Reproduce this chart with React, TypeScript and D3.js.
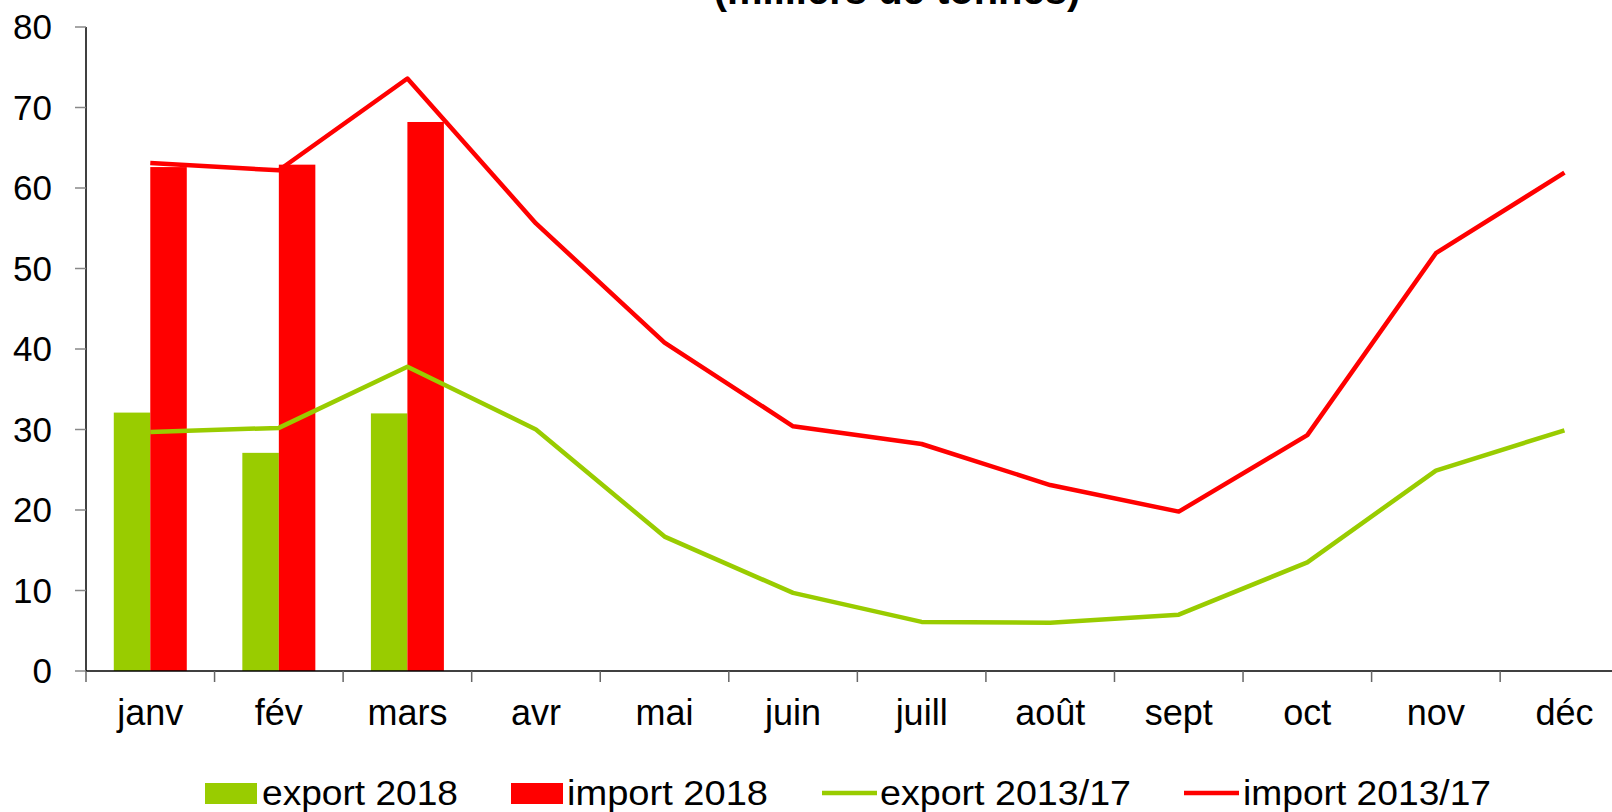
import React from 'react';
import * as d3 from 'd3';

const months = ['janv', 'fév', 'mars', 'avr', 'mai', 'juin', 'juill', 'août', 'sept', 'oct', 'nov', 'déc'];
const export2018 = [32.1, 27.1, 32.0];
const import2018 = [62.6, 62.9, 68.2];
const export1317 = [29.7, 30.2, 37.8, 30.0, 16.7, 9.7, 6.1, 6.0, 7.0, 13.5, 24.9, 29.9];
const import1317 = [63.1, 62.2, 73.6, 55.6, 40.8, 30.4, 28.2, 23.1, 19.8, 29.3, 51.9, 61.9];
const yTicks = [0, 10, 20, 30, 40, 50, 60, 70, 80];

const GREEN = '#99CC00';
const RED = '#FF0000';
const FONT = '"Liberation Sans", Arial, sans-serif';

const W = 1612;
const H = 812;

const App = () => {
  const left = 86;
  const step = 128.56;
  const x = d3.scaleBand<string>()
    .domain(months)
    .range([left, left + step * months.length])
    .padding(0);
  const y = d3.scaleLinear().domain([0, 80]).range([671, 27]);
  const bw = 36.5;
  const cx = (m: string) => (x(m) as number) + x.bandwidth() / 2;

  const line = d3.line<number>()
    .x((_, i) => cx(months[i]))
    .y(d => y(d));

  // legend items
  const legend = [
    { kind: 'rect', color: GREEN, label: 'export 2018', sx: 205, tx: 262, tw: 196 },
    { kind: 'rect', color: RED, label: 'import 2018', sx: 511, tx: 567, tw: 201 },
    { kind: 'line', color: GREEN, label: 'export 2013/17', sx: 822, tx: 880, tw: 251 },
    { kind: 'line', color: RED, label: 'import 2013/17', sx: 1184, tx: 1243, tw: 248 },
  ];

  return (
    <div style={{ position: 'absolute', left: 0, top: 0 }}>
      <svg width={W} height={H} style={{ display: 'block', background: '#fff' }} fontFamily={FONT}>
        <text x={897} y={4} textAnchor="middle" fontSize={40} fontWeight="bold">(milliers de tonnes)</text>

        {/* y axis */}
        <line x1={left} x2={left} y1={y(80)} y2={y(0)} stroke="#000" strokeWidth={1.5} />
        {yTicks.map(t => (
          <g key={t}>
            <line x1={left - 11} x2={left} y1={y(t)} y2={y(t)} stroke="#888" strokeWidth={1.5} />
            <text x={52} y={y(t)} dy="0.355em" textAnchor="end" fontSize={35}>{t}</text>
          </g>
        ))}

        {/* bars */}
        {export2018.map((v, i) => (
          <rect key={'e' + i} x={cx(months[i]) - bw} y={y(v)} width={bw} height={y(0) - y(v)} fill={GREEN} />
        ))}
        {import2018.map((v, i) => (
          <rect key={'i' + i} x={cx(months[i])} y={y(v)} width={bw} height={y(0) - y(v)} fill={RED} />
        ))}

        {/* lines */}
        <path d={line(export1317) || ''} fill="none" stroke={GREEN} strokeWidth={4.5} strokeLinejoin="round" />
        <path d={line(import1317) || ''} fill="none" stroke={RED} strokeWidth={4.5} strokeLinejoin="round" />

        {/* x axis */}
        <line x1={left} x2={W} y1={y(0)} y2={y(0)} stroke="#000" strokeWidth={1.5} />
        {months.map(m => (
          <line key={'t' + m} x1={x(m)} x2={x(m)} y1={y(0)} y2={y(0) + 11} stroke="#666" strokeWidth={1.5} />
        ))}
        {months.map(m => (
          <text key={'l' + m} x={cx(m)} y={725} textAnchor="middle" fontSize={36}>{m}</text>
        ))}

        {/* legend */}
        {legend.map(l => (
          <g key={l.label}>
            {l.kind === 'rect'
              ? <rect x={l.sx} y={783} width={52} height={21} fill={l.color} />
              : <line x1={l.sx} x2={l.sx + 55} y1={793} y2={793} stroke={l.color} strokeWidth={4.5} />}
            <text x={l.tx} y={805} fontSize={35} textLength={l.tw} lengthAdjust="spacingAndGlyphs">{l.label}</text>
          </g>
        ))}
      </svg>
    </div>
  );
};

export default App;
